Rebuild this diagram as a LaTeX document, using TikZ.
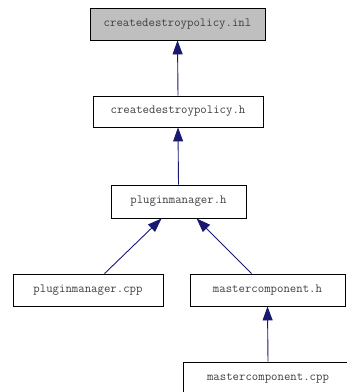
\documentclass[tikz,border=0pt]{standalone}
\usepackage{fontspec}
\usetikzlibrary{arrows.meta}
\definecolor{edgeblue}{HTML}{191970}
\definecolor{boxgray}{HTML}{BFBFBF}
\begin{document}
\begin{tikzpicture}[x=1bp,y=-1bp,
  filebox/.style={draw=black,line width=0.9bp,fill=white,inner sep=0pt,
    font=\ttfamily\fontsize{12.5}{14}\selectfont,text=black!75},
  edge/.style={draw=edgeblue,line width=0.9bp,-{Triangle[length=14bp,width=10bp]}}]
\useasboundingbox (0,0) rectangle (347,392);
\node[filebox,fill=boxgray,minimum width=175bp,minimum height=32bp] (A) at (177.5,24) {createdestroypolicy.inl};
\node[filebox,minimum width=170bp,minimum height=31bp] (B) at (178,111.5) {createdestroypolicy.h};
\node[filebox,minimum width=135bp,minimum height=33bp] (C) at (178.5,201.5) {pluginmanager.h};
\node[filebox,minimum width=150bp,minimum height=32bp] (D) at (88,290) {pluginmanager.cpp};
\node[filebox,minimum width=155bp,minimum height=32bp] (E) at (267.5,290) {mastercomponent.h};
\node[filebox,minimum width=170bp,minimum height=32bp] (F) at (268,378) {mastercomponent.cpp};
\draw[edge] (B.north) -- (A.south);
\draw[edge] (C.north) -- (B.south);
\draw[edge] ([xshift=92bp]D.north west) -- ([xshift=51bp]C.south west);
\draw[edge] ([xshift=62bp]E.north west) -- ([xshift=86bp]C.south west);
\draw[edge] (F.north) -- (E.south);
\end{tikzpicture}
\end{document}
